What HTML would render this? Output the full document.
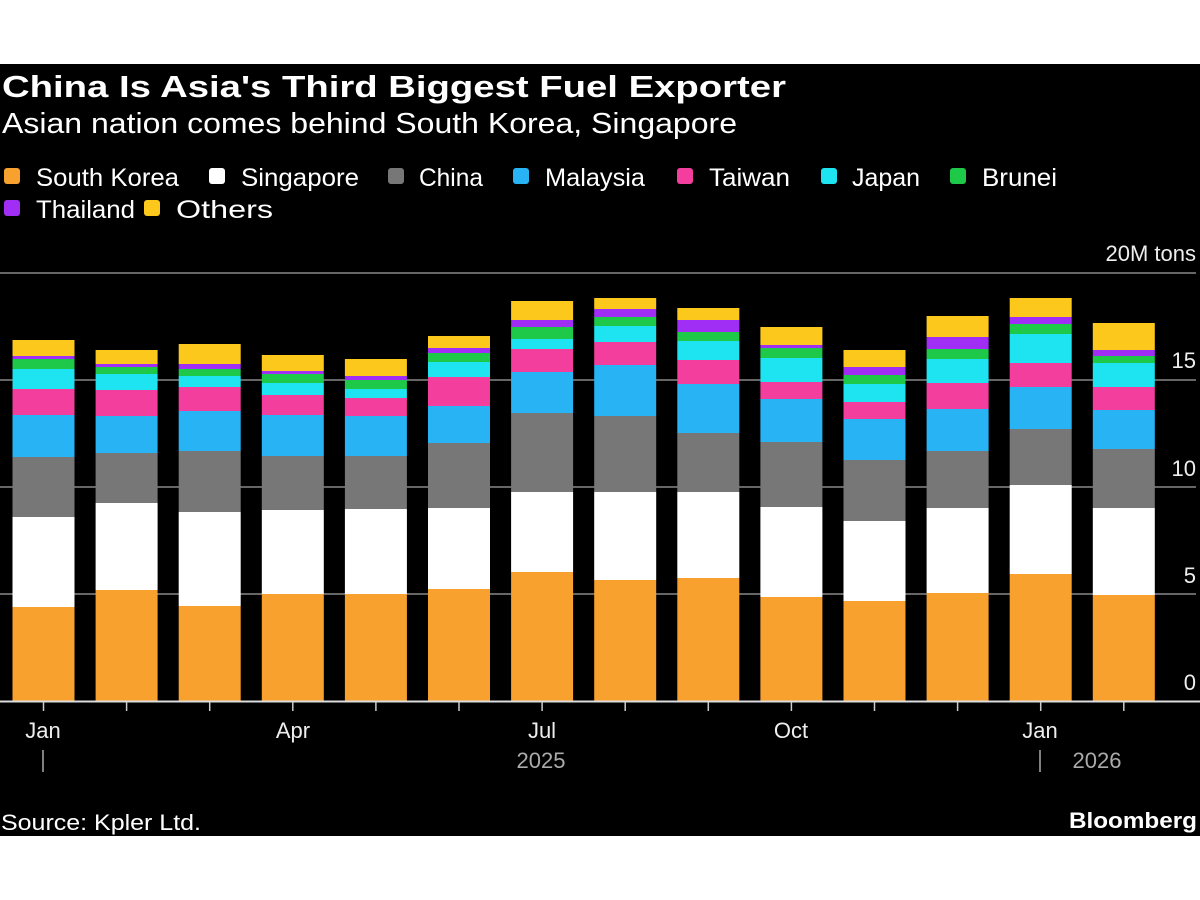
<!DOCTYPE html>
<html><head><meta charset="utf-8"><style>
html,body{margin:0;padding:0;background:#fff;width:1200px;height:900px;overflow:hidden}
svg{display:block}
text{font-family:"Liberation Sans",sans-serif}
</style></head><body>
<svg width="1200" height="900" viewBox="0 0 1200 900" xmlns="http://www.w3.org/2000/svg">
<rect x="0" y="64" width="1200" height="772" fill="#000"/>
<text x="2" y="97" fill="#fff" font-size="31" font-weight="bold" textLength="784" lengthAdjust="spacingAndGlyphs">China Is Asia's Third Biggest Fuel Exporter</text>
<text x="2" y="133" fill="#fff" font-size="29" textLength="735" lengthAdjust="spacingAndGlyphs">Asian nation comes behind South Korea, Singapore</text>
<g font-size="25" fill="#fff">
<rect x="4" y="168" width="16" height="16" rx="3" fill="#f9a12e"/><text x="36" y="186" textLength="143" lengthAdjust="spacingAndGlyphs">South Korea</text>
<rect x="209" y="168" width="16" height="16" rx="3" fill="#fff"/><text x="241" y="186" textLength="118" lengthAdjust="spacingAndGlyphs">Singapore</text>
<rect x="388" y="168" width="16" height="16" rx="3" fill="#777"/><text x="419" y="186" textLength="64" lengthAdjust="spacingAndGlyphs">China</text>
<rect x="513" y="168" width="16" height="16" rx="3" fill="#28b4f4"/><text x="545" y="186" textLength="100" lengthAdjust="spacingAndGlyphs">Malaysia</text>
<rect x="677" y="168" width="16" height="16" rx="3" fill="#f33e9e"/><text x="709" y="186" textLength="81" lengthAdjust="spacingAndGlyphs">Taiwan</text>
<rect x="821" y="168" width="16" height="16" rx="3" fill="#1ee3f0"/><text x="852" y="186" textLength="68" lengthAdjust="spacingAndGlyphs">Japan</text>
<rect x="950" y="168" width="16" height="16" rx="3" fill="#1ec94a"/><text x="982" y="186" textLength="75" lengthAdjust="spacingAndGlyphs">Brunei</text>
<rect x="4" y="200" width="16" height="16" rx="3" fill="#a12ef5"/><text x="36" y="218" textLength="99" lengthAdjust="spacingAndGlyphs">Thailand</text>
<rect x="144" y="200" width="16" height="16" rx="3" fill="#fcc81b"/><text x="176" y="218" textLength="97" lengthAdjust="spacingAndGlyphs">Others</text>
</g>
<g stroke="#666" stroke-width="2">
<line x1="0" y1="273" x2="1196" y2="273"/>
<line x1="0" y1="380" x2="1196" y2="380"/>
<line x1="0" y1="487" x2="1196" y2="487"/>
<line x1="0" y1="594" x2="1196" y2="594"/>
</g>
<g id="bars"></g>
<line x1="0" y1="701.5" x2="1200" y2="701.5" stroke="#ddd" stroke-width="2"/>
<g id="ticks" stroke="#ccc" stroke-width="1.5"></g>
<g font-size="22" fill="#eee" text-anchor="end">
<text x="1196" y="261">20M tons</text>
<text x="1196" y="368">15</text>
<text x="1196" y="476">10</text>
<text x="1196" y="583">5</text>
<text x="1196" y="690">0</text>
</g>
<g font-size="22" fill="#eee" text-anchor="middle">
<text x="43" y="738">Jan</text>
<text x="293" y="738">Apr</text>
<text x="542" y="738">Jul</text>
<text x="791" y="738">Oct</text>
<text x="1040" y="738">Jan</text>
</g>
<g font-size="22" fill="#aaa" text-anchor="middle">
<text x="541" y="768">2025</text>
<text x="1097" y="768">2026</text>
</g>
<line x1="43" y1="750" x2="43" y2="772" stroke="#aaa" stroke-width="1.5"/>
<line x1="1040" y1="750" x2="1040" y2="772" stroke="#aaa" stroke-width="1.5"/>
<text x="1" y="830" fill="#fff" font-size="22" textLength="200" lengthAdjust="spacingAndGlyphs">Source: Kpler Ltd.</text>
<text x="1197" y="828" fill="#fff" font-size="22" font-weight="bold" text-anchor="end" textLength="128" lengthAdjust="spacingAndGlyphs">Bloomberg</text>
<script>
var d=[
[607,517,457,415,389,369,359,356,340],
[590,503,453,416,390,374,367,364,350],
[606,512,451,411,387,376,369,364,344],
[594,510,456,415,395,383,374,371,355],
[594,509,456,416,398,389,380,376,359],
[589,508,443,406,377,362,353,348,336],
[572,492,413,372,349,339,327,320,301],
[580,492,416,365,342,326,317,309,298],
[578,492,433,384,360,341,332,320,308],
[597,507,442,399,382,358,348,345,327],
[601,521,460,419,402,384,375,367,350],
[593,508,451,409,383,359,349,337,316],
[574,485,429,387,363,334,324,317,298],
[595,508,449,410,387,363,356,350,323]];
var c=["#f9a12e","#fff","#777","#28b4f4","#f33e9e","#1ee3f0","#1ec94a","#a12ef5","#fcc81b"];
var ns="http://www.w3.org/2000/svg",g=document.getElementById("bars"),t=document.getElementById("ticks");
for(var i=0;i<14;i++){var x=12.5+i*83.1,b=701;
for(var j=0;j<9;j++){var r=document.createElementNS(ns,"rect");r.setAttribute("x",x);r.setAttribute("width",62);r.setAttribute("y",d[i][j]);r.setAttribute("height",b-d[i][j]);r.setAttribute("fill",c[j]);g.appendChild(r);b=d[i][j];}
var l=document.createElementNS(ns,"line");l.setAttribute("x1",x+31);l.setAttribute("x2",x+31);l.setAttribute("y1",702);l.setAttribute("y2",711);t.appendChild(l);}
</script>
</svg>
</body></html>
